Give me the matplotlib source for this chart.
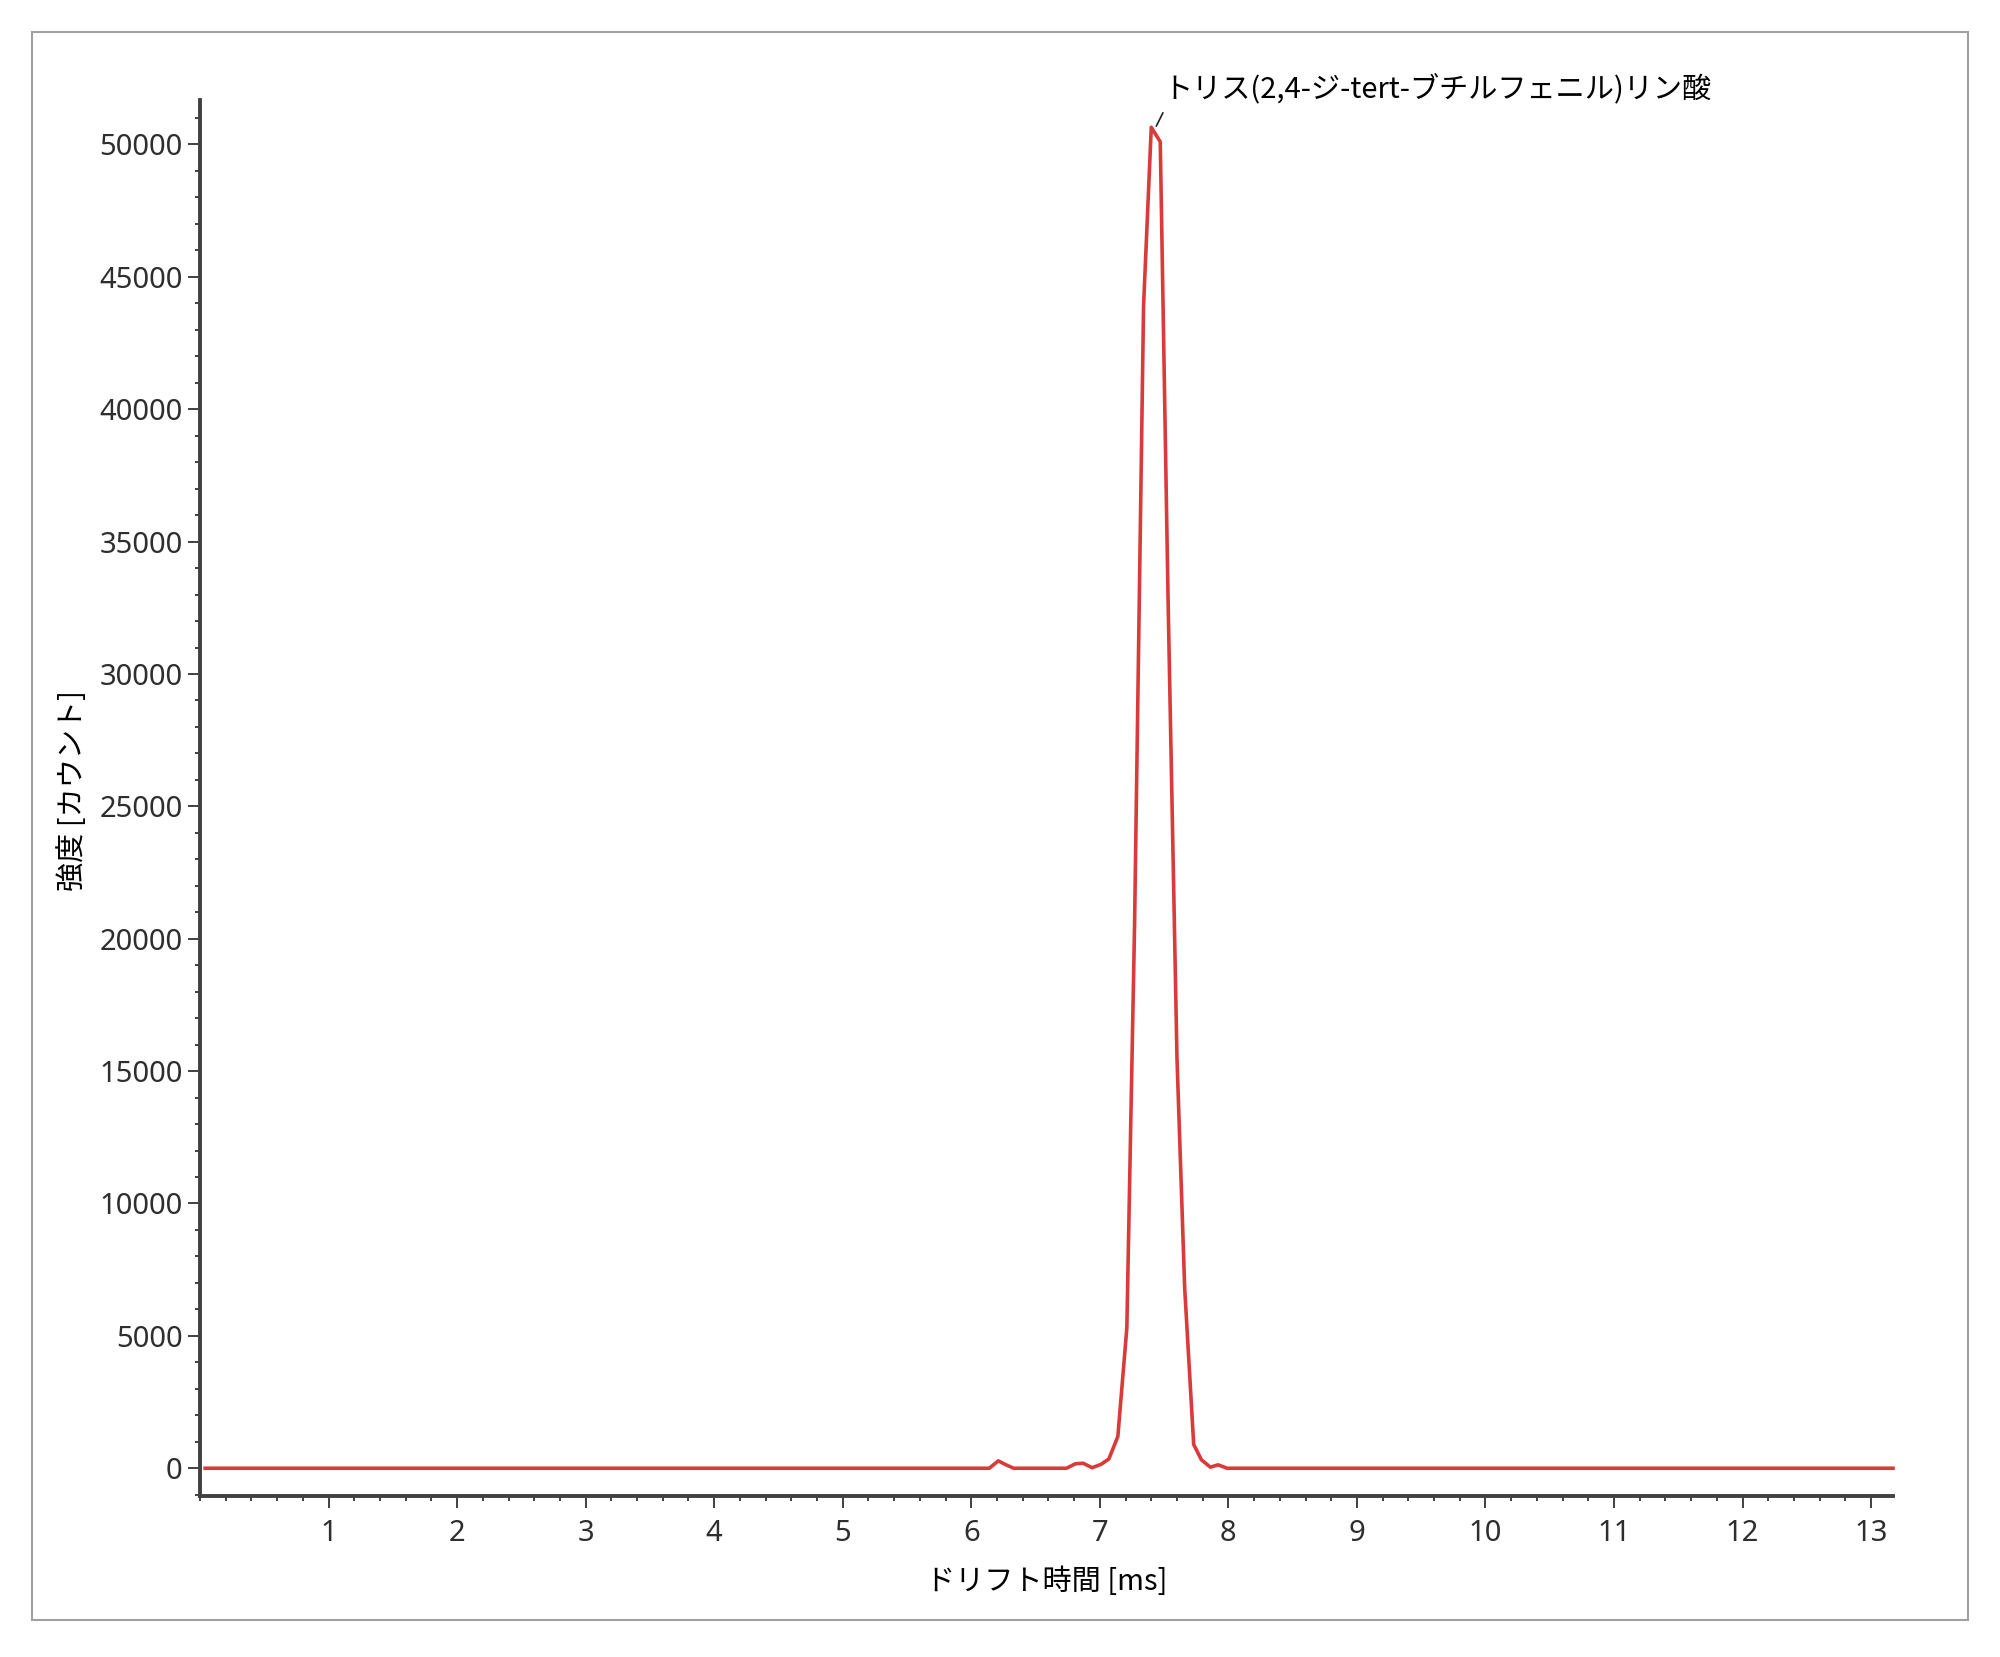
import matplotlib
matplotlib.use("Agg")
import matplotlib.pyplot as plt
from matplotlib.patches import Rectangle
from matplotlib.ticker import MultipleLocator

# ---- data ----
drift_ms = [0.04, 6.14, 6.21, 6.27, 6.33, 6.74, 6.81, 6.87, 6.94, 7.01, 7.07,
            7.14, 7.21, 7.27, 7.34, 7.40, 7.47, 7.53, 7.60, 7.66, 7.73, 7.79,
            7.86, 7.92, 7.99, 13.17]
intensity = [0, 0, 280, 130, 0, 0, 170, 190, 20, 150, 350,
             1200, 5300, 20500, 43900, 50650, 50100, 33000, 15500, 6800, 900, 320,
             40, 130, 0, 0]
x_ticks = [1, 2, 3, 4, 5, 6, 7, 8, 9, 10, 11, 12, 13]
y_ticks = [0, 5000, 10000, 15000, 20000, 25000, 30000, 35000, 40000, 45000, 50000]
peak_label = "トリス(2,4-ジ-tert-ブチルフェニル)リン酸"
peak_x, peak_y = 7.40, 50650
x_label = "ドリフト時間 [ms]"
y_label = "強度 [カウント]"

JP = ["Noto Sans CJK JP", "DejaVu Sans"]
NUM = ["Noto Sans", "DejaVu Sans"]

W, H, DPI = 2000, 1657, 100
fig = plt.figure(figsize=(W / DPI, H / DPI), dpi=DPI)
fig.patch.set_facecolor("white")

# outer gray frame
fig.patches.append(Rectangle((32 / W, 1 - 1620 / H), (1968 - 32) / W, (1620 - 32) / H,
                             transform=fig.transFigure, fill=False,
                             edgecolor="#a0a0a0", linewidth=1.5))

ax = fig.add_axes([200 / W, 1 - 1496 / H, (1893 - 200) / W, (1496 - 100) / H])
ax.plot(drift_ms, intensity, color="#d93b3b", linewidth=2.6, solid_joinstyle="round",
        clip_on=False)

ax.set_xlim(0, 13.17)
ax.set_ylim(-1048, 51680)

for s in ("top", "right"):
    ax.spines[s].set_visible(False)
for s in ("left", "bottom"):
    ax.spines[s].set_color("#404040")
    ax.spines[s].set_linewidth(2.8)

ax.set_xticks(x_ticks)
ax.set_yticks(y_ticks)
ax.xaxis.set_minor_locator(MultipleLocator(0.2))
ax.yaxis.set_minor_locator(MultipleLocator(1000))
ax.tick_params(which="major", length=8.6, width=1.4, color="#404040",
               labelsize=21, labelcolor="#2e2e2e")
ax.tick_params(axis="y", which="major", pad=4)
ax.tick_params(axis="x", which="major", pad=8)
ax.tick_params(which="minor", length=3.6, width=1.4, color="#404040")
for lab in ax.get_xticklabels() + ax.get_yticklabels():
    lab.set_family(NUM)

ax.set_xlabel(x_label, family=JP, fontsize=21, color="black")
ax.xaxis.label.set_va("center")
ax.xaxis.set_label_coords(0.5, (1496 - 1582) / 1396)
ax.set_ylabel(y_label, family=JP, fontsize=21, color="black")
ax.yaxis.label.set_va("center")
ax.yaxis.set_label_coords((73 - 200) / 1693, (1496 - 791) / 1396)

# leader line and label
ax.plot([peak_x + 0.04, peak_x + 0.09], [peak_y + 50, peak_y + 540],
        color="#222222", linewidth=1.2, clip_on=False)
ax.text(peak_x + 0.095, peak_y + 860, peak_label, family=JP, fontsize=21,
        color="black", ha="left", va="bottom", clip_on=False)

fig.savefig("out.png", dpi=DPI, facecolor="white")
